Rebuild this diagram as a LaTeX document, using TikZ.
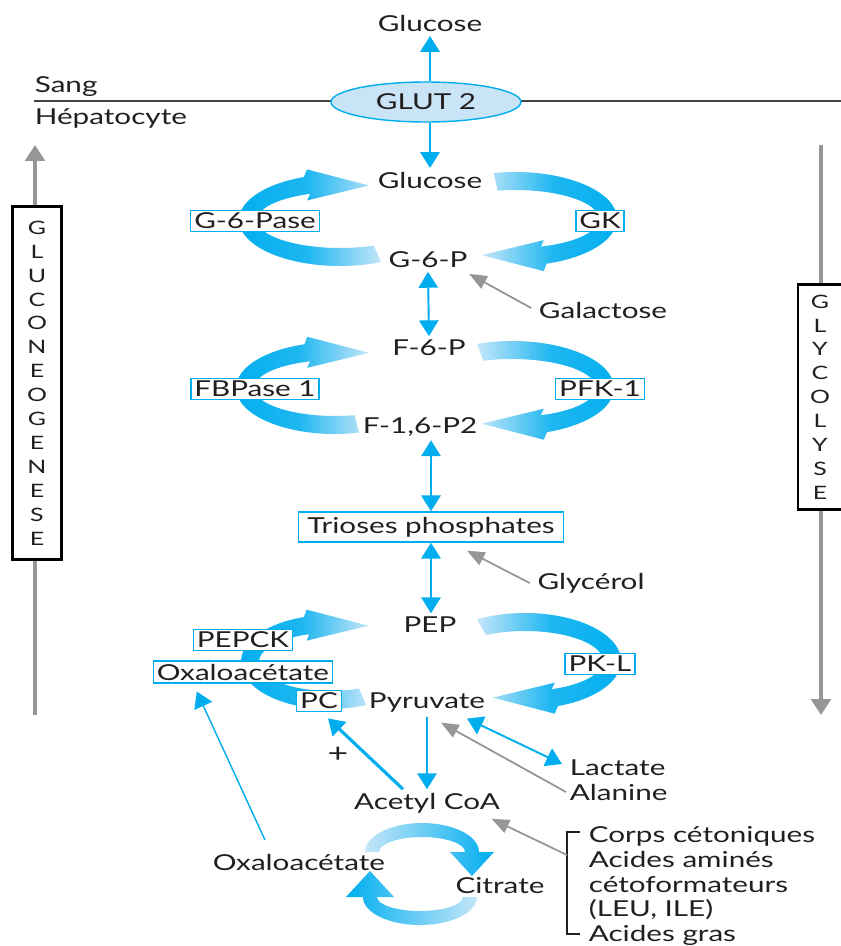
\documentclass[tikz,border=0pt]{standalone}
\usepackage{fontspec}
\setmainfont{Lato}[FakeStretch=1.35]
\usetikzlibrary{arrows.meta,calc,shapes.geometric}

\definecolor{pathcyan}{RGB}{0,174,239}
\definecolor{palecyan}{RGB}{196,230,249}
\definecolor{glutfill}{RGB}{200,228,246}
\definecolor{feedgray}{RGB}{150,150,150}
\definecolor{inkgray}{RGB}{35,31,32}

\tikzset{
  metabolite/.style={text=inkgray, inner sep=2pt},
  enzyme/.style={draw=pathcyan, line width=0.8pt, fill=white, text=inkgray,
                 inner xsep=2pt, inner ysep=1.5pt, minimum height=0.42cm},
  flow/.style={draw=pathcyan, line width=1.1pt, -{Triangle[width=11pt,length=9pt]}},
  bothflow/.style={flow, {Triangle[width=11pt,length=9pt]}-{Triangle[width=11pt,length=9pt]}},
  feed/.style={draw=feedgray, line width=1pt, -{Triangle[width=8pt,length=10pt]}},
  sideflow/.style={draw=feedgray, line width=2.2pt, -{Triangle[width=11pt,length=9pt]}},
  sidelabel/.style={draw=black, line width=1.6pt, fill=white, align=center, text=inkgray,
                    font=\fontsize{10.5}{13.6}\selectfont, inner sep=0pt},
  westband/.style={left color=pathcyan, right color=palecyan, middle color=pathcyan!85!palecyan},
  eastband/.style={left color=palecyan, right color=pathcyan, middle color=pathcyan!85!palecyan},
}

% thick shaded half loop with a flat head: shading, cx, cy, x radius, y radius, start, end
\newcommand{\loopband}[7]{%
  \pgfmathsetmacro{\lbsg}{sign(sin(#7))}%
  \pgfmathsetmacro{\lbxs}{#2+(#4+9)*cos(#6)}%
  \pgfmathsetmacro{\lbys}{#3+(#5+9)*sin(#6)}%
  \pgfmathsetmacro{\lbxe}{#2+#4*cos(#7)}%
  \pgfmathsetmacro{\lbye}{#3+#5*sin(#7)}%
  \pgfmathsetmacro{\lbxi}{#2+(#4-9)*cos(#7)}%
  \pgfmathsetmacro{\lbyi}{#3+(#5-9)*sin(#7)}%
  \shade[#1] (\lbxs,\lbys) arc[start angle=#6, end angle=#7, x radius=#4+9, y radius=#5+9]
    -- (\lbxe,\lbye+16*\lbsg) -- (\lbxe-62*\lbsg,\lbye) -- (\lbxe,\lbye-15*\lbsg)
    -- (\lbxi,\lbyi) arc[start angle=#7, end angle=#6, x radius=#4-9, y radius=#5-9] -- cycle;
}

\begin{document}
\begin{tikzpicture}[x=0.02cm, y=-0.02cm, font=\fontsize{12.5}{15}\selectfont]
\path[use as bounding box, fill=white] (0,0) rectangle (841,946);

% membrane and transporter
\draw[inkgray!85, line width=0.9pt] (34,101) -- (841,101);
\node[metabolite, anchor=west] (sang) at (31,87) {Sang};
\node[metabolite, anchor=west] (hepato) at (31,118) {Hépatocyte};
\node[ellipse, draw=pathcyan, line width=0.8pt, fill=glutfill, text=inkgray,
      minimum width=3.8cm, minimum height=0.8cm] (glut) at (426,102) {GLUT 2};
\node[metabolite] (glucout) at (430,24) {Glucose};

% pathway directions
\coordinate (gngTop) at (35,145);
\coordinate (gngBot) at (35,715);
\coordinate (glyTop) at (821,145);
\coordinate (glyBot) at (821,715);
\draw[sideflow] (gngBot) -- (gngTop);
\draw[sideflow] (glyTop) -- (glyBot);
\node[sidelabel, minimum width=0.98cm, minimum height=7.06cm] (gng) at (37,383)
  {G\\L\\U\\C\\O\\N\\E\\O\\G\\E\\N\\E\\S\\E};
\node[sidelabel, minimum width=0.88cm, minimum height=4.5cm] (gly) at (820,397)
  {G\\L\\Y\\C\\O\\L\\Y\\S\\E};

% substrate cycles
\loopband{westband}{340}{220}{92}{37}{66}{249}
\loopband{eastband}{515}{219}{93}{38}{258}{432}
\loopband{westband}{335}{388}{90}{37}{76}{252}
\loopband{eastband}{512}{388}{93}{38}{250}{430}
\loopband{westband}{330}{662}{80}{38}{66}{253}
\loopband{eastband}{525}{661}{87}{39}{240}{430}

% Krebs loop
\shade[left color=palecyan, right color=pathcyan]
  (365,852) arc[start angle=180, end angle=360, x radius=57, y radius=29]
  -- (494,852) -- (472,876) -- (450,852) -- (465,852)
  arc[start angle=360, end angle=180, x radius=43, y radius=15] -- cycle;
\shade[left color=pathcyan, right color=palecyan]
  (477,897) arc[start angle=0, end angle=180, x radius=57, y radius=28]
  -- (346,897) -- (370,871) -- (394,897) -- (377,897)
  arc[start angle=180, end angle=0, x radius=43, y radius=14] -- cycle;

% metabolites
\node[metabolite] (glucose) at (430,180) {Glucose};
\node[metabolite] (g6p) at (428,260) {G-6-P};
\node[metabolite] (f6p) at (429,348) {F-6-P};
\node[metabolite] (f16p) at (420,427) {F-1,6-P2};
\node[enzyme, inner xsep=5pt, minimum height=0.6cm] (trioses) at (431,527) {Trioses phosphates};
\node[metabolite] (pep) at (430,625) {PEP};
\node[metabolite] (pyruvate) at (427,703) {Pyruvate};
\node[metabolite] (acetyl) at (427,803) {Acetyl CoA};
\node[metabolite] (oaa) at (299,862) {Oxaloacétate};
\node[metabolite] (citrate) at (500,886) {Citrate};
\node[metabolite] (galactose) at (603,310) {Galactose};
\node[metabolite] (glycerol) at (591,583) {Glycérol};
\node[metabolite, anchor=west] (lactate) at (566,768) {Lactate};
\node[metabolite, anchor=west] (alanine) at (566,792) {Alanine};
\node[metabolite, font=\fontsize{15}{15}\selectfont] (plus) at (338,755) {+};
\node[metabolite, anchor=west, align=left, font=\fontsize{12.5}{14.06}\selectfont] (sources) at (585,886)
  {Corps cétoniques\\Acides aminés\\cétoformateurs\\(LEU, ILE)\\Acides gras};

% enzymes
\node[enzyme] (g6pase) at (255,221) {G-6-Pase};
\node[enzyme] (gk) at (600,221) {GK};
\node[enzyme] (fbpase) at (255,389) {FBPase 1};
\node[enzyme] (pfk) at (600,389) {PFK-1};
\node[enzyme] (pepck) at (243,640) {PEPCK};
\node[enzyme] (oaabox) at (243,672) {Oxaloacétate};
\node[enzyme] (pc) at (319,701) {PC};
\node[enzyme] (pkl) at (600,664) {PK-L};

% connectors
\draw[flow] (glucout.south |- glut.north) -- (glucout.south);
\draw[flow] (glucose.north |- glut.south) -- (glucose.north);
\draw[bothflow] (g6p.south) -- (f6p.north);
\draw[bothflow] (trioses.north |- f16p.south) -- (trioses.north);
\draw[bothflow] (trioses.south) -- (trioses.south |- pep.north);
\draw[flow] (pyruvate.south) -- (acetyl.north);
\draw[flow, line width=1.8pt] ($(acetyl.north)+(-24,0)$) -- ($(pc.south)+(9,6)$);
\draw[bothflow] ($(pyruvate.south)+(40,2)$) -- ($(lactate.west)+(-4,-4)$);
\draw[feed] (alanine.west) -- ($(pyruvate.south)+(14,6)$);
\draw[feed] ($(galactose.west)+(-4,-2)$) -- ($(g6p.south east)+(-2,2)$);
\draw[feed] ($(glycerol.west)+(-4,0)$) -- ($(trioses.south)+(36,8)$);
\draw[flow, line width=0.8pt] ($(oaa.north)+(-34,-10)$) -- ($(oaabox.south west)+(44,8)$);

% bracket of ketogenic sources
\draw[inkgray, line width=0.8pt] (580,832) -- (567,832) -- (567,934) -- (580,934);
\coordinate (srcjoin) at (567,855);
\draw[feed] (srcjoin) -- ($(acetyl.south east)+(-12,2)$);
\end{tikzpicture}
\end{document}
